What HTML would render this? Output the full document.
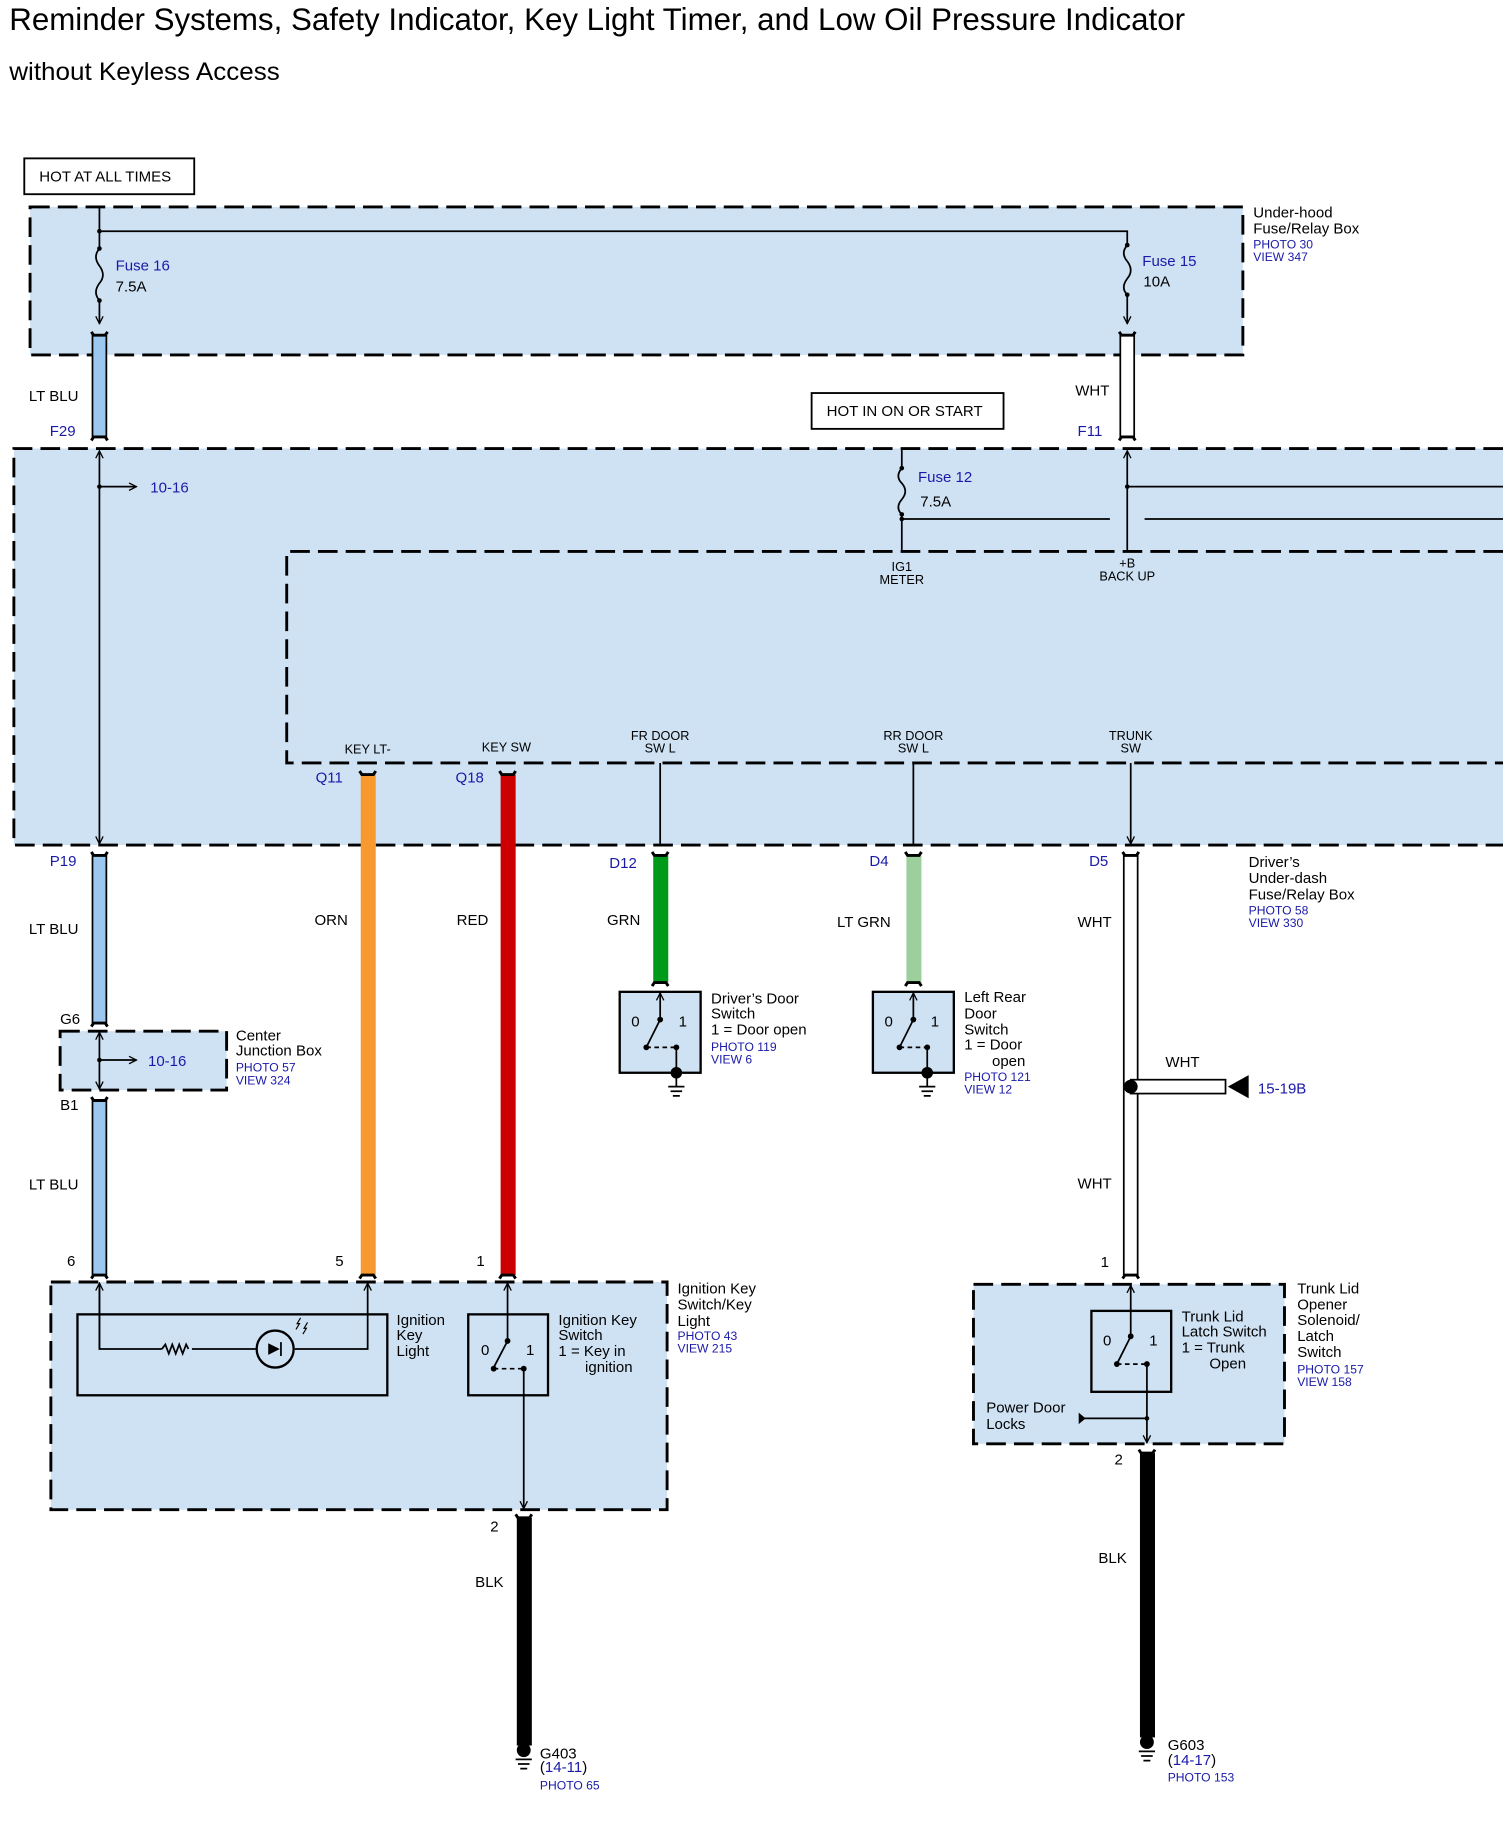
<!DOCTYPE html>
<html><head><meta charset="utf-8"><style>
html,body{margin:0;padding:0;background:#fff;}
svg{display:block;}
text{font-family:"Liberation Sans",Arial,sans-serif;fill:#000;}
.b,.b text{fill:#1a1aa8;}
.s{font-size:11px;}
.m{font-size:13px;}
.p{font-size:10.5px;}
</style></head><body>
<svg width="1503" height="1823" viewBox="0 0 1300 1577" preserveAspectRatio="none" xmlns="http://www.w3.org/2000/svg">
<defs>
<marker id="a" viewBox="0 0 10 10" refX="9" refY="5" markerWidth="8" markerHeight="8" orient="auto-start-reverse" markerUnits="userSpaceOnUse"><path d="M1,1 L9,5 L1,9" fill="none" stroke="#000" stroke-width="1.4"/></marker>
</defs>
<text x="8" y="26" style="font-size:27px" textLength="1017" lengthAdjust="spacingAndGlyphs">Reminder Systems, Safety Indicator, Key Light Timer, and Low Oil Pressure Indicator</text>
<text x="8" y="69" style="font-size:22px" textLength="234" lengthAdjust="spacingAndGlyphs">without Keyless Access</text>

<rect x="21" y="137" width="147" height="31" fill="#fff" stroke="#000" stroke-width="1.6"/>
<text x="34" y="157" class="m">HOT AT ALL TIMES</text>
<rect x="702" y="340" width="166" height="31" fill="#fff" stroke="#000" stroke-width="1.6"/>
<text x="715" y="360" class="m">HOT IN ON OR START</text>

<g fill="#cfe2f4" stroke="#000" stroke-width="2.5" stroke-dasharray="17,7">
<rect x="26" y="179" width="1049" height="128"/>
<path d="M1300,388 H12 V731 H1300" />
<path d="M1300,477 H248 V660 H1300" />
<rect x="52" y="892" width="144" height="51"/>
<rect x="44" y="1109" width="533" height="197"/>
<rect x="842" y="1111" width="269" height="138"/>
</g>

<g fill="none" stroke="#000" stroke-width="1.5">
<path d="M86,179 V215 M86,260 V280" marker-end="url(#a)"/>
<path d="M86,215 q-6,7 0,15 q6,8 0,15 q-6,8 0,15"/>
<path d="M86,200 H975 V212 M975,255 V280" marker-end="url(#a)"/>
<path d="M975,212 q-6,7 0,14 q6,8 0,15 q-6,8 0,14"/>
<path d="M86,421 H118" marker-end="url(#a)"/>
<path d="M86,390 V730" marker-start="url(#a)" marker-end="url(#a)"/>
<path d="M780,388 V405 M780,445 V477"/>
<path d="M780,405 q-6,7 0,13 q6,7 0,14 q-6,7 0,13"/>
<path d="M780,449 H960 M990,449 H1300"/>
<path d="M975,390 V477" marker-start="url(#a)"/>
<path d="M975,421 H1300"/>
<path d="M571,660 V730 M790,660 V730 M978,660 V730" marker-end="url(#a)"/>
<path d="M86,893 V942" marker-start="url(#a)" marker-end="url(#a)"/>
<path d="M86,917 H118" marker-end="url(#a)"/>
<path d="M86,1110 V1167 H140 M166,1167 H221 M255,1167 H318 V1110" marker-end="url(#a)"/>
<path d="M86,1167 V1110" marker-end="url(#a)"/>
<path d="M140,1167 l3,-4 l3,8 l3,-8 l3,8 l3,-8 l3,8 l3,-8 l2,4"/>
<path d="M439,1110 V1160" marker-start="url(#a)"/>
<path d="M453,1184 V1305" marker-end="url(#a)"/>
<path d="M978,1112 V1156" marker-start="url(#a)"/>
<path d="M992,1180 V1248" marker-end="url(#a)"/>
<path d="M935,1227 H992"/>
</g>
<circle cx="86" cy="421" r="2" /><circle cx="86" cy="917" r="2"/><circle cx="975" cy="421" r="2"/><circle cx="780" cy="449" r="2"/><circle cx="86" cy="200" r="2"/>
<circle cx="86" cy="215" r="2"/><circle cx="86" cy="260" r="2"/><circle cx="975" cy="212" r="2"/><circle cx="975" cy="255" r="2"/><circle cx="780" cy="405" r="2"/><circle cx="780" cy="445" r="2"/>
<circle cx="992" cy="1227" r="2"/>
<path d="M933,1222 l6,5 l-6,5z"/>

<rect x="67" y="1137" width="268" height="70" fill="none" stroke="#000" stroke-width="2"/>
<circle cx="238" cy="1167" r="16" fill="none" stroke="#000" stroke-width="2"/>
<path d="M232,1162 L242,1167 L232,1172z"/><path d="M243,1161 V1173" stroke="#000" stroke-width="1.5"/>
<path d="M256,1150 l3,-5 l-2,0 l3,-5 M262,1154 l3,-5 l-2,0 l3,-5" fill="none" stroke="#000" stroke-width="1"/>

<g fill="#cfe2f4" stroke="#000" stroke-width="2">
<rect x="405" y="1137" width="69" height="70" fill="none"/>
<rect x="536" y="858" width="70" height="70"/>
<rect x="755" y="858" width="70" height="70"/>
<rect x="944" y="1134" width="69" height="70" fill="none"/>
</g>
<g fill="none" stroke="#000" stroke-width="1.5">
<path d="M439,1160 L427,1183"/>
<path d="M571,859 V882" marker-start="url(#a)"/><path d="M571,882 L559,906"/><path d="M559,906 H585" stroke-dasharray="4,3"/><path d="M585,906 V926"/>
<path d="M790,859 V882" marker-start="url(#a)"/><path d="M790,882 L778,906"/><path d="M778,906 H802" stroke-dasharray="4,3"/><path d="M802,906 V926"/>
<path d="M978,1156 L966,1180"/><path d="M966,1180 H992" stroke-dasharray="4,3"/>
<path d="M585,933 V940 M578,940 H592 M580,944 H590 M582,948 H588"/>
<path d="M802,933 V940 M795,940 H809 M797,944 H807 M799,948 H805"/>
<path d="M427,1184 H453" stroke-dasharray="4,3"/>
</g>
<g>
<circle cx="439" cy="1160" r="2.5"/><circle cx="427" cy="1184" r="2.5"/><circle cx="453" cy="1184" r="2.5"/>
<circle cx="571" cy="882" r="2.5"/><circle cx="559" cy="906" r="2.5"/><circle cx="585" cy="906" r="2.5"/><circle cx="585" cy="928" r="5"/>
<circle cx="790" cy="882" r="2.5"/><circle cx="778" cy="906" r="2.5"/><circle cx="802" cy="906" r="2.5"/><circle cx="802" cy="928" r="5"/>
<circle cx="978" cy="1156" r="2.5"/><circle cx="966" cy="1180" r="2.5"/><circle cx="992" cy="1180" r="2.5"/>
</g>
<g class="m"><text x="416" y="1172">0</text><text x="455" y="1172">1</text>
<text x="546" y="888">0</text><text x="587" y="888">1</text>
<text x="765" y="888">0</text><text x="805" y="888">1</text>
<text x="954" y="1164">0</text><text x="994" y="1164">1</text></g>

<g stroke="#000" stroke-width="1.5">
<rect x="80" y="290" width="12" height="88" fill="#9cc8f0"/>
<rect x="80" y="740" width="12" height="145" fill="#9cc8f0"/>
<rect x="80" y="952" width="12" height="151" fill="#9cc8f0"/>
<rect x="969" y="290" width="12" height="88" fill="#fff"/>
<rect x="972" y="740" width="12" height="363" fill="#fff"/>
<rect x="978" y="934" width="82" height="12" fill="#fff"/>
</g>
<rect x="973" y="935" width="10" height="10" fill="#fff"/>
<circle cx="978" cy="940" r="6"/>
<path d="M1062,940 L1080,930 L1080,950z"/>
<rect x="312" y="670" width="13" height="433" fill="#f7992e"/>
<rect x="433" y="670" width="13" height="433" fill="#cc0000"/>
<rect x="565" y="740" width="13" height="110" fill="#009a1a"/>
<rect x="784" y="740" width="13" height="110" fill="#9ccf9c"/>
<rect x="447" y="1313" width="13" height="197" fill="#000"/>
<rect x="986" y="1257" width="13" height="246" fill="#000"/>

<g fill="none" stroke="#000" stroke-width="2.5">
<path d="M79,287 L81,290 H91 L93,287 M79,381 L81,378 H91 L93,381"/>
<path d="M968,287 L970,290 H980 L982,287 M968,381 L970,378 H980 L982,381"/>
<path d="M79,737 L81,740 H91 L93,737 M79,888 L81,885 H91 L93,888 M79,949 L81,952 H91 L93,949 M79,1106 L81,1103 H91 L93,1106"/>
<path d="M971,737 L973,740 H983 L985,737 M971,1106 L973,1103 H983 L985,1106"/>
<path d="M311,667 L313,670 H323 L325,667 M311,1106 L313,1103 H323 L325,1106"/>
<path d="M432,667 L434,670 H444 L446,667 M432,1106 L434,1103 H444 L446,1106"/>
<path d="M564,737 L566,740 H576 L578,737 M564,853 L566,850 H576 L578,853"/>
<path d="M783,737 L785,740 H795 L797,737 M783,853 L785,850 H795 L797,853"/>
<path d="M446,1310 L448,1313 H458 L460,1310"/>
<path d="M985,1254 L987,1257 H997 L999,1254"/>
</g>
<circle cx="453" cy="1514" r="6"/><path d="M446,1522 H460 M448,1526 H458 M450,1530 H456" stroke="#000" stroke-width="1.5"/>
<circle cx="992" cy="1507" r="6"/><path d="M985,1515 H999 M987,1519 H997 M989,1523 H995" stroke="#000" stroke-width="1.5"/>

<g class="m">
<text x="100" y="234" class="b">Fuse 16</text><text x="100" y="252">7.5A</text>
<text x="988" y="230" class="b">Fuse 15</text><text x="989" y="248">10A</text>
<text x="794" y="417" class="b">Fuse 12</text><text x="796" y="438">7.5A</text>
<text x="25" y="347">LT BLU</text><text x="43" y="377" class="b">F29</text>
<text x="930" y="342">WHT</text><text x="932" y="377" class="b">F11</text>
<text x="130" y="426" class="b">10-16</text>
<text x="273" y="677" class="b">Q11</text><text x="394" y="677" class="b">Q18</text>
<text x="43" y="749" class="b">P19</text><text x="527" y="751" class="b">D12</text><text x="752" y="749" class="b">D4</text><text x="942" y="749" class="b">D5</text>
<text x="25" y="808">LT BLU</text><text x="272" y="800">ORN</text><text x="395" y="800">RED</text><text x="525" y="800">GRN</text><text x="724" y="802">LT GRN</text><text x="932" y="802">WHT</text>
<text x="52" y="886">G6</text><text x="128" y="922" class="b">10-16</text><text x="52" y="960">B1</text>
<text x="25" y="1029">LT BLU</text><text x="932" y="1028">WHT</text><text x="1008" y="923">WHT</text><text x="1088" y="946" class="b">15-19B</text>
<text x="58" y="1095">6</text><text x="290" y="1095">5</text><text x="412" y="1095">1</text><text x="952" y="1096">1</text>
<text x="424" y="1325">2</text><text x="964" y="1267">2</text>
<text x="411" y="1373">BLK</text><text x="950" y="1352">BLK</text>
</g>
<g class="s" text-anchor="middle">
<text x="780" y="494">IG1</text><text x="780" y="505">METER</text>
<text x="975" y="491">+B</text><text x="975" y="502">BACK UP</text>
<text x="318" y="652">KEY LT-</text><text x="438" y="650">KEY SW</text>
<text x="571" y="640">FR DOOR</text><text x="571" y="651">SW L</text>
<text x="790" y="640">RR DOOR</text><text x="790" y="651">SW L</text>
<text x="978" y="640">TRUNK</text><text x="978" y="651">SW</text>
</g>
<g class="m">
<text x="1084" y="188">Under-hood</text><text x="1084" y="202">Fuse/Relay Box</text>
<text x="1080" y="750">Driver’s</text><text x="1080" y="764">Under-dash</text><text x="1080" y="778">Fuse/Relay Box</text>
<text x="204" y="900">Center</text><text x="204" y="913">Junction Box</text>
<text x="615" y="868">Driver’s Door</text><text x="615" y="881">Switch</text><text x="615" y="895">1 = Door open</text>
<text x="834" y="867">Left Rear</text><text x="834" y="881">Door</text><text x="834" y="895">Switch</text><text x="834" y="908">1 = Door</text><text x="858" y="922">open</text>
<text x="343" y="1146">Ignition</text><text x="343" y="1159">Key</text><text x="343" y="1173">Light</text>
<text x="483" y="1146">Ignition Key</text><text x="483" y="1159">Switch</text><text x="483" y="1173">1 = Key in</text><text x="506" y="1187">ignition</text>
<text x="586" y="1119">Ignition Key</text><text x="586" y="1133">Switch/Key</text><text x="586" y="1147">Light</text>
<text x="1022" y="1143">Trunk Lid</text><text x="1022" y="1156">Latch Switch</text><text x="1022" y="1170">1 = Trunk</text><text x="1046" y="1184">Open</text>
<text x="853" y="1222">Power Door</text><text x="853" y="1236">Locks</text>
<text x="1122" y="1119">Trunk Lid</text><text x="1122" y="1133">Opener</text><text x="1122" y="1146">Solenoid/</text><text x="1122" y="1160">Latch</text><text x="1122" y="1174">Switch</text>
<text x="467" y="1521">G403</text><text x="467" y="1533">(<tspan fill="#1a1aa8">14-11</tspan>)</text>
<text x="1010" y="1514">G603</text><text x="1010" y="1527">(<tspan fill="#1a1aa8">14-17</tspan>)</text>
</g>
<g class="p b">
<text x="1084" y="215">PHOTO 30</text><text x="1084" y="226">VIEW 347</text>
<text x="1080" y="791">PHOTO 58</text><text x="1080" y="802">VIEW 330</text>
<text x="204" y="927">PHOTO 57</text><text x="204" y="938">VIEW 324</text>
<text x="615" y="909">PHOTO 119</text><text x="615" y="920">VIEW 6</text>
<text x="834" y="935">PHOTO 121</text><text x="834" y="946">VIEW 12</text>
<text x="586" y="1159">PHOTO 43</text><text x="586" y="1170">VIEW 215</text>
<text x="1122" y="1188">PHOTO 157</text><text x="1122" y="1199">VIEW 158</text>
<text x="467" y="1548">PHOTO 65</text><text x="1010" y="1541">PHOTO 153</text>
</g>
</svg>
</body></html>
